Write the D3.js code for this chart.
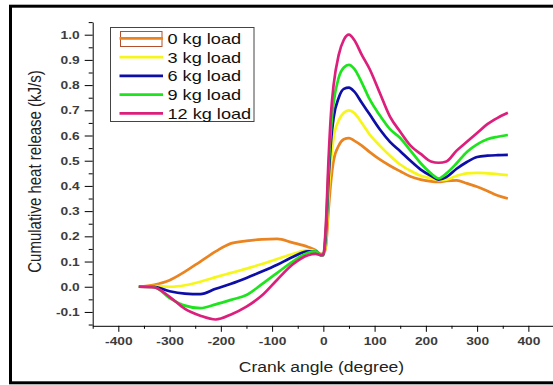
<!DOCTYPE html>
<html>
<head>
<meta charset="utf-8">
<script src="https://cdn.jsdelivr.net/npm/d3@7"></script>
<style>
  body { margin: 0; background: #fff; }
  text { font-family: "Liberation Sans", Arial, sans-serif; }
</style>
</head>
<body>
<svg width="553" height="385"></svg>
<script>
// crank angle samples (degree)
const angles = [-360, -330, -300, -270, -240, -210, -180, -150, -120, -90, -60, -30, -15, -5,
  0, 5, 10, 15, 20, 30, 40, 50, 60, 75, 90, 110, 130, 150, 170, 190, 210, 225, 240, 260,
  280, 300, 320, 340, 360];

// cumulative heat release (kJ/s), one list per load
const load0 = [0, 0.008, 0.026, 0.06, 0.10, 0.14, 0.172, 0.182, 0.188, 0.19, 0.175, 0.158, 0.145, 0.13,
  0.13, 0.16, 0.30, 0.42, 0.50, 0.56, 0.585, 0.59, 0.58, 0.56, 0.535, 0.505, 0.48, 0.458, 0.437, 0.425,
  0.418, 0.416, 0.42, 0.422, 0.41, 0.397, 0.38, 0.362, 0.35];
const load3 = [0, 0.003, 0.0, 0.006, 0.02, 0.038, 0.055, 0.072, 0.09, 0.11, 0.13, 0.145, 0.14, 0.125,
  0.125, 0.18, 0.36, 0.50, 0.59, 0.66, 0.69, 0.70, 0.69, 0.65, 0.605, 0.56, 0.52, 0.485, 0.46, 0.44,
  0.43, 0.423, 0.425, 0.44, 0.45, 0.452, 0.45, 0.447, 0.443];
const load6 = [0, 0.0, -0.018, -0.027, -0.029, -0.008, 0.012, 0.035, 0.06, 0.087, 0.118, 0.14, 0.14, 0.125,
  0.125, 0.21, 0.42, 0.58, 0.67, 0.75, 0.785, 0.79, 0.775, 0.73, 0.685, 0.625, 0.575, 0.538, 0.50, 0.465,
  0.44, 0.425, 0.435, 0.468, 0.495, 0.515, 0.52, 0.522, 0.523];
const load9 = [0, -0.002, -0.045, -0.075, -0.085, -0.07, -0.052, -0.033, 0.01, 0.055, 0.10, 0.135, 0.14, 0.125,
  0.13, 0.23, 0.46, 0.63, 0.73, 0.83, 0.87, 0.88, 0.865, 0.81, 0.745, 0.68, 0.625, 0.59, 0.54, 0.49,
  0.45, 0.43, 0.45, 0.49, 0.535, 0.565, 0.585, 0.595, 0.602];
const load12 = [0, -0.003, -0.04, -0.088, -0.115, -0.13, -0.11, -0.079, -0.035, 0.028, 0.088, 0.125, 0.13, 0.125,
  0.13, 0.25, 0.50, 0.69, 0.80, 0.92, 0.98, 1.0, 0.98, 0.92, 0.865, 0.77, 0.675, 0.615, 0.56, 0.527,
  0.497, 0.492, 0.497, 0.54, 0.575, 0.61, 0.645, 0.67, 0.69];

const seriesNames = ["0 kg load", "3 kg load", "6 kg load", "9 kg load", "12 kg load"];
const seriesValues = [load0, load3, load6, load9, load12];
const seriesColors = ["#ea8420", "#f6f61a", "#0d0da8", "#1ee41e", "#dc1f7c"];

const xTicks = [-400, -300, -200, -100, 0, 100, 200, 300, 400];
const yTicks = [-0.1, 0, 0.1, 0.2, 0.3, 0.4, 0.5, 0.6, 0.7, 0.8, 0.9, 1.0];

const stretch = 1.25; // the picture is wider than tall text would be

const svg = d3.select("svg");

const x = d3.scaleLinear().domain([-450, 450]).range([92.7, 554]);
const y = d3.scaleLinear().domain([-0.155, 1.05]).range([325.8, 22.1]);

function widen(sel) {
  sel.each(function () {
    const w = this.getComputedTextLength();
    d3.select(this).attr("textLength", w * stretch).attr("lengthAdjust", "spacingAndGlyphs");
  });
}

// outer frame
svg.append("rect")
  .attr("x", 10.5).attr("y", 6.2)
  .attr("width", 570).attr("height", 376.6)
  .attr("fill", "none").attr("stroke", "#000").attr("stroke-width", 3);

// minor ticks
svg.append("g")
  .attr("transform", `translate(0,${y(-0.155)})`)
  .call(d3.axisBottom(x).tickValues(d3.range(-450, 451, 100)).tickSize(3).tickFormat(""))
  .call(g => g.select(".domain").remove());
svg.append("g")
  .attr("transform", `translate(${x(-450)},0)`)
  .call(d3.axisLeft(y).tickValues(d3.range(-0.15, 1.06, 0.1)).tickSize(4).tickFormat(""))
  .call(g => g.select(".domain").remove());

// x axis
const gx = svg.append("g")
  .attr("transform", `translate(0,${y(-0.155)})`)
  .call(d3.axisBottom(x).tickValues(xTicks).tickSize(6).tickPadding(5).tickSizeOuter(0)
    .tickFormat(d => String(d)));
gx.selectAll("text")
  .attr("font-size", 11).attr("font-weight", "bold").attr("fill", "#3c3c3c")
  .call(widen);

// y axis
const gy = svg.append("g")
  .attr("transform", `translate(${x(-450)},0)`)
  .call(d3.axisLeft(y).tickValues(yTicks).tickSize(8).tickPadding(5).tickSizeOuter(0)
    .tickFormat(d => d.toFixed(1)));
gy.selectAll("text")
  .attr("font-size", 11).attr("font-weight", "bold").attr("fill", "#3c3c3c")
  .call(widen);

// axis titles
svg.append("text")
  .attr("x", 321.5).attr("y", 371.5)
  .attr("text-anchor", "middle")
  .attr("font-size", 14).attr("fill", "#222")
  .text("Crank angle (degree)")
  .call(widen);

svg.append("text")
  .attr("transform", `translate(40.5,171.5) scale(${stretch},1) rotate(-90)`)
  .attr("text-anchor", "middle")
  .attr("font-size", 15).attr("fill", "#222")
  .text("Cumulative heat release (kJ/s)");

// curves
const line = d3.line()
  .x(d => x(d[0]))
  .y(d => y(d[1]))
  .curve(d3.curveMonotoneX);

seriesValues.forEach((vals, i) => {
  svg.append("path")
    .datum(angles.map((a, j) => [a, vals[j]]))
    .attr("fill", "none")
    .attr("stroke", seriesColors[i])
    .attr("stroke-width", 2.7)
    .attr("stroke-linejoin", "round")
    .attr("d", line);
});

// legend
const legend = svg.append("g");
legend.append("rect")
  .attr("x", 110.5).attr("y", 27.5)
  .attr("width", 143.5).attr("height", 94)
  .attr("fill", "#fff").attr("stroke", "#444").attr("stroke-width", 1);

legend.append("rect")
  .attr("x", 120.5).attr("y", 31.5)
  .attr("width", 41.5).attr("height", 15)
  .attr("fill", "none").attr("stroke", "#b4502c").attr("stroke-width", 1);

seriesNames.forEach((name, i) => {
  const ly = 38.3 + i * 18.75;
  legend.append("line")
    .attr("x1", 119.5).attr("x2", 163)
    .attr("y1", ly).attr("y2", ly)
    .attr("stroke", seriesColors[i]).attr("stroke-width", 2.7);
  legend.append("text")
    .attr("x", 167.5).attr("y", ly + 5.5)
    .attr("font-size", 14.5).attr("fill", "#111")
    .text(name)
    .call(widen);
});
</script>
</body>
</html>
